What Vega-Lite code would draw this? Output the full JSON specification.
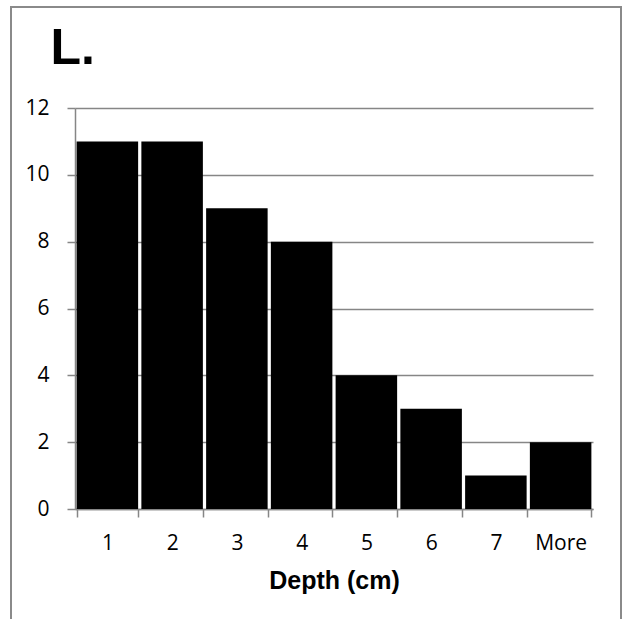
{
  "$schema": "https://vega.github.io/schema/vega-lite/v6.json",
  "autosize": "none",
  "width": 610,
  "height": 615,
  "padding": {"left": 11, "top": 7, "right": 2, "bottom": 0},
  "background": "white",
  "data": {
    "values": [
      {"bin": "1", "count": 11},
      {"bin": "2", "count": 11},
      {"bin": "3", "count": 9},
      {"bin": "4", "count": 8},
      {"bin": "5", "count": 4},
      {"bin": "6", "count": 3},
      {"bin": "7", "count": 1},
      {"bin": "More", "count": 2}
    ]
  },
  "mark": {"type": "bar", "color": "black"},
  "encoding": {
    "x": {
      "field": "bin",
      "type": "nominal",
      "sort": null,
      "scale": {"range": [64, 582], "paddingInner": 0.05, "paddingOuter": 0.025},
      "axis": {
        "title": "Depth (cm)",
        "labelAngle": 0,
        "tickBand": "extent",
        "offset": -113,
        "domainColor": "#868686",
        "domainWidth": 1.5,
        "tickColor": "#868686",
        "tickWidth": 1.5,
        "tickSize": 8,
        "labelFont": "Open Sans",
        "labelFontSize": 21,
        "labelColor": "black",
        "labelPadding": 15,
        "titleFont": "Liberation Sans",
        "titleFontSize": 25,
        "titleFontWeight": "bold",
        "titleColor": "black",
        "titlePadding": 15
      }
    },
    "y": {
      "field": "count",
      "type": "quantitative",
      "scale": {"domain": [0, 12], "range": [502, 101], "nice": false},
      "axis": {
        "title": "L.",
        "titleAngle": 0,
        "titleAlign": "left",
        "titleBaseline": "alphabetic",
        "titleX": -25,
        "titleY": 56,
        "titleFont": "Liberation Sans",
        "titleFontSize": 50,
        "titleFontWeight": "bold",
        "titleColor": "black",
        "values": [0, 2, 4, 6, 8, 10, 12],
        "offset": -64,
        "grid": true,
        "gridColor": "#868686",
        "gridWidth": 1.5,
        "gridOpacity": 1,
        "domainColor": "#868686",
        "domainWidth": 1.5,
        "tickColor": "#868686",
        "tickWidth": 1.5,
        "tickSize": 8,
        "labelFont": "Open Sans",
        "labelFontSize": 21,
        "labelColor": "black",
        "labelPadding": 18
      }
    }
  },
  "config": {
    "view": {"stroke": "#8a8a8a", "strokeWidth": 2}
  }
}
